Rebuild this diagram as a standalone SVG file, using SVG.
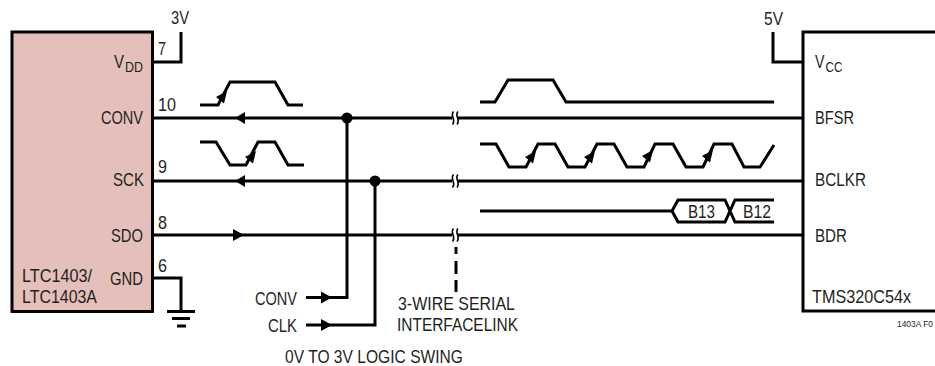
<svg xmlns="http://www.w3.org/2000/svg" width="935" height="366" viewBox="0 0 935 366">
<style>
text{font-family:"Liberation Sans",Arial,sans-serif;font-size:18.500px;fill:#231f20}
.sub{font-size:15px}
.w{fill:none;stroke:#000;stroke-width:3;stroke-linejoin:miter}
.b{fill:none;stroke:#000;stroke-width:1.600}
</style>
<defs>
<polygon id="wa" points="0,0 -11,6 -3,12.5" fill="#000"/>
<polygon id="al" points="0,0 10,-6 10,6" fill="#000"/>
<polygon id="ar" points="0,0 -11,-6 -11,6" fill="#000"/>
<g id="brk"><rect x="452" y="-2.500" width="6" height="5" fill="#fff"/><path class="b" d="M453.500,-6.500c-4,4 3,8 -1,13M458,-6.500c-4,4 3,8 -1,13"/></g>
</defs>
<g id="ltc1403">
<rect x="12" y="32" width="140.500" height="279.500" fill="#e5c0ba" stroke="#000" stroke-width="3"/>
<text x="114" y="68" textLength="10" lengthAdjust="spacingAndGlyphs">V</text><text class="sub" x="125" y="72" textLength="18" lengthAdjust="spacingAndGlyphs">DD</text>
<text x="101" y="124" textLength="42" lengthAdjust="spacingAndGlyphs">CONV</text>
<text x="113" y="186" textLength="31" lengthAdjust="spacingAndGlyphs">SCK</text>
<text x="111" y="242" textLength="32" lengthAdjust="spacingAndGlyphs">SDO</text>
<text x="110" y="285" textLength="33" lengthAdjust="spacingAndGlyphs">GND</text>
<text x="22" y="282" textLength="70" lengthAdjust="spacingAndGlyphs">LTC1403/</text>
<text x="22" y="303" textLength="75" lengthAdjust="spacingAndGlyphs">LTC1403A</text>
</g>
<g id="tms320">
<path class="w" d="M935,32H803V311H935"/>
<text x="815" y="68" textLength="9.500" lengthAdjust="spacingAndGlyphs">V</text><text class="sub" x="825.500" y="72" textLength="17" lengthAdjust="spacingAndGlyphs">CC</text>
<text x="815" y="124" textLength="39" lengthAdjust="spacingAndGlyphs">BFSR</text>
<text x="815" y="186" textLength="51" lengthAdjust="spacingAndGlyphs">BCLKR</text>
<text x="815" y="242" textLength="32" lengthAdjust="spacingAndGlyphs">BDR</text>
<text x="812" y="303" textLength="99" lengthAdjust="spacingAndGlyphs">TMS320C54x</text>
</g>
<g id="connectors">
<path class="w" d="M152,62H181V32"/>
<path class="w" d="M152,278H181V311"/>
<path class="w" d="M167,311.500H195"/>
<path class="w" d="M172,318.500H190"/>
<path class="w" d="M177,326H186"/>
<path class="w" d="M803,62H773V32"/>
<path class="w" d="M152,118H803"/>
<path class="w" d="M152,181H803"/>
<path class="w" d="M152,235H803"/>
<path class="w" d="M347,118V297.500H306"/>
<path class="w" d="M375,181V325H306"/>
<circle cx="347" cy="118" r="5.500" fill="#000"/>
<circle cx="375" cy="181" r="5.500" fill="#000"/>
<use href="#al" x="235" y="118"/>
<use href="#al" x="235" y="181"/>
<use href="#ar" x="244" y="235"/>
<use href="#ar" x="332" y="297.500"/>
<use href="#ar" x="332" y="325"/>
<use href="#brk" y="118"/>
<use href="#brk" y="181"/>
<use href="#brk" y="235"/>
<path class="w" d="M456,247V254M456,261V274M456,280V292"/>
</g>
<g id="waveforms">
<path class="w" d="M200,105H218L230,82H275L288,105H303"/>
<path class="w" d="M200,142H216L230,165H246L258,142H275L288,165H304"/>
<path class="w" d="M480,102H495L508,80H553L566,102H774"/>
<path class="w" d="M480,144H496L509,167H526L538,144H555L568,167H585L597,144H614L627,167H644L655,144H673L686,167H703L714,144H732L744,167H760L774,145"/>
<path class="w" d="M480,211H672L678,200H725L735,222H774M774,200H735L725,222H678L672,211"/>
<use href="#wa" x="227" y="91"/>
<use href="#wa" x="256" y="151"/>
<use href="#wa" x="536" y="151"/>
<use href="#wa" x="595" y="151"/>
<use href="#wa" x="653" y="150"/>
<use href="#wa" x="713" y="150"/>
<text x="688" y="218" textLength="27" lengthAdjust="spacingAndGlyphs">B13</text>
<text x="743" y="218" textLength="28" lengthAdjust="spacingAndGlyphs">B12</text>
</g>
<g id="labels">
<text x="171" y="24" textLength="18" lengthAdjust="spacingAndGlyphs">3V</text>
<text x="764" y="25" textLength="19" lengthAdjust="spacingAndGlyphs">5V</text>
<text x="158" y="55" textLength="8" lengthAdjust="spacingAndGlyphs">7</text>
<text x="158" y="111" textLength="18" lengthAdjust="spacingAndGlyphs">10</text>
<text x="158" y="173" textLength="9" lengthAdjust="spacingAndGlyphs">9</text>
<text x="158" y="229" textLength="9" lengthAdjust="spacingAndGlyphs">8</text>
<text x="158" y="272" textLength="9" lengthAdjust="spacingAndGlyphs">6</text>
<text x="255" y="305" textLength="42" lengthAdjust="spacingAndGlyphs">CONV</text>
<text x="268" y="332" textLength="29" lengthAdjust="spacingAndGlyphs">CLK</text>
<text x="285" y="363" textLength="178" lengthAdjust="spacingAndGlyphs">0V TO 3V LOGIC SWING</text>
<text x="398" y="310" textLength="117" lengthAdjust="spacingAndGlyphs">3-WIRE SERIAL</text>
<text x="397" y="331" textLength="121" lengthAdjust="spacingAndGlyphs">INTERFACELINK</text>
<text x="897" y="327" style="font-size:9px" textLength="36" lengthAdjust="spacingAndGlyphs">1403A F0</text>
</g>
</svg>
